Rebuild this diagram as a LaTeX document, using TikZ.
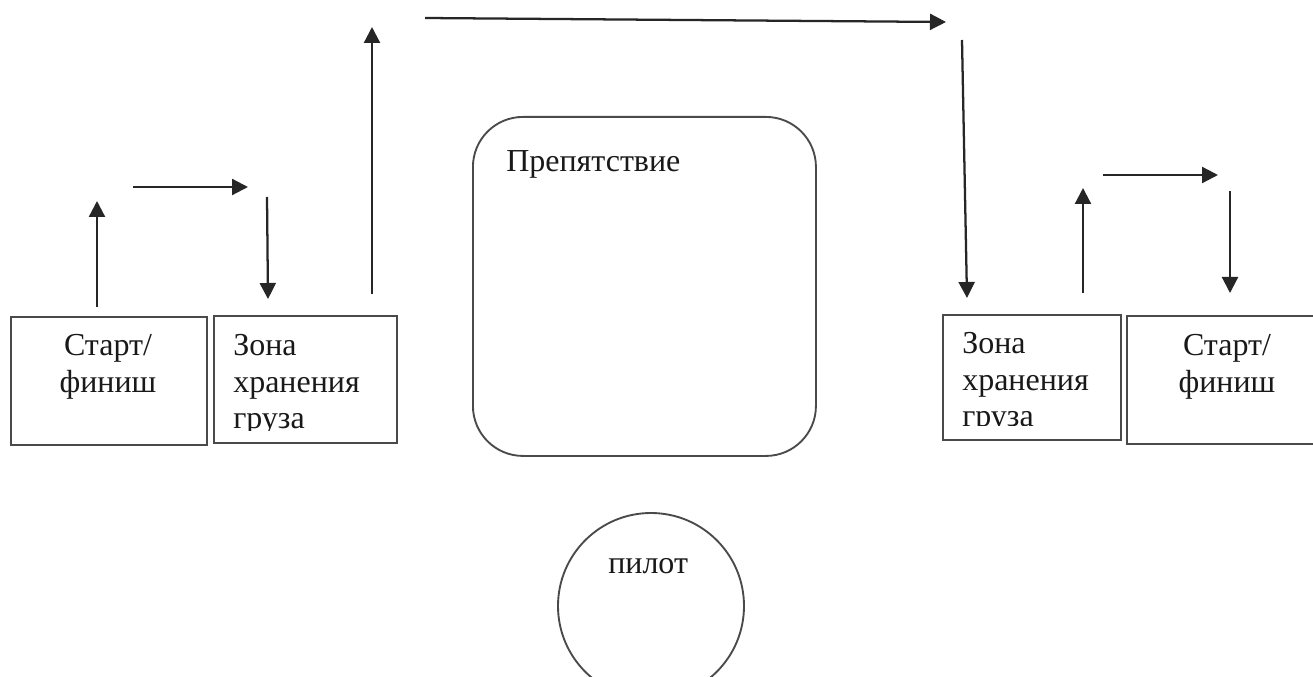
\documentclass[tikz,border=0pt]{standalone}
\usepackage{fontspec}
\setmainfont{Liberation Serif}
\usetikzlibrary{arrows.meta}
\definecolor{boxgray}{HTML}{4A4A4A}
\begin{document}
\begin{tikzpicture}[x=0.75pt,y=-0.75pt,
  zonebox/.style={draw=boxgray,line width=1.4pt,rectangle,inner sep=0pt,anchor=north west},
  lbl/.style={inner sep=0pt,font=\fontsize{24}{28}\selectfont,text=black!90},
  flow/.style={line width=1.7pt,draw=black!85,-{Triangle[length=12pt,width=12pt]}}]
\useasboundingbox (0,0) rectangle (1313,677);
\clip (0,0) rectangle (1313,677);
\fill[white] (0,0) rectangle (1313,677);

% boxes
\node[zonebox,minimum width=147pt,minimum height=96pt] (startL) at (10,316) {};
\node[zonebox,minimum width=137.25pt,minimum height=95.25pt] (zoneL) at (213,315) {};
\node[zonebox,minimum width=133.5pt,minimum height=93.75pt] (zoneR) at (942,314) {};
\node[zonebox,minimum width=150pt,minimum height=96pt] (startR) at (1126,315) {};
\node[zonebox,rounded corners=37.5pt,minimum width=257.25pt,minimum height=254.25pt] (obst) at (472,116) {};
\node[draw=boxgray,line width=1.4pt,circle,inner sep=0pt,minimum size=139.5pt] (pilot) at (651,606) {};

% labels
\node[lbl,anchor=base] (sL1) at (108,355) {Старт/};
\node[lbl,anchor=base] (sL2) at (108,392) {финиш};
\node[lbl,anchor=base west] (zL1) at (233,355) {Зона};
\node[lbl,anchor=base west] (zL2) at (233,392) {хранения};
\begin{scope}
  \clip (214,316) rectangle (395,430);
  \node[lbl,anchor=base west] (zL3) at (233,428) {груза};
\end{scope}
\node[lbl,anchor=base west] (zR1) at (962,353) {Зона};
\node[lbl,anchor=base west] (zR2) at (962,390) {хранения};
\begin{scope}
  \clip (943,315) rectangle (1119,425);
  \node[lbl,anchor=base west] (zR3) at (962,426) {груза};
\end{scope}
\node[lbl,anchor=base] (sR1) at (1227,355) {Старт/};
\node[lbl,anchor=base] (sR2) at (1227,392) {финиш};
\node[lbl,anchor=base west] (obstT) at (506,172) {Препятствие};
\node[lbl,anchor=base west] (pilotT) at (608,573) {пилот};

% arrow endpoints
\coordinate (a1s) at (97,307);   \coordinate (a1e) at (97,201);
\coordinate (a2s) at (133,187);  \coordinate (a2e) at (248,187);
\coordinate (a3s) at (267,197);  \coordinate (a3e) at (268,299);
\coordinate (a4s) at (372,294);  \coordinate (a4e) at (372,27);
\coordinate (a5s) at (425,18);   \coordinate (a5e) at (946,22);
\coordinate (a6s) at (962,40);   \coordinate (a6e) at (967,298);
\coordinate (a7s) at (1083,293); \coordinate (a7e) at (1083,188);
\coordinate (a8s) at (1103,175); \coordinate (a8e) at (1218,175);
\coordinate (a9s) at (1230,191); \coordinate (a9e) at (1230,293);

\draw[flow] (a1s) -- (a1e);
\draw[flow] (a2s) -- (a2e);
\draw[flow] (a3s) -- (a3e);
\draw[flow] (a4s) -- (a4e);
\draw[flow] (a5s) -- (a5e);
\draw[flow] (a6s) -- (a6e);
\draw[flow] (a7s) -- (a7e);
\draw[flow] (a8s) -- (a8e);
\draw[flow] (a9s) -- (a9e);
\end{tikzpicture}
\end{document}
